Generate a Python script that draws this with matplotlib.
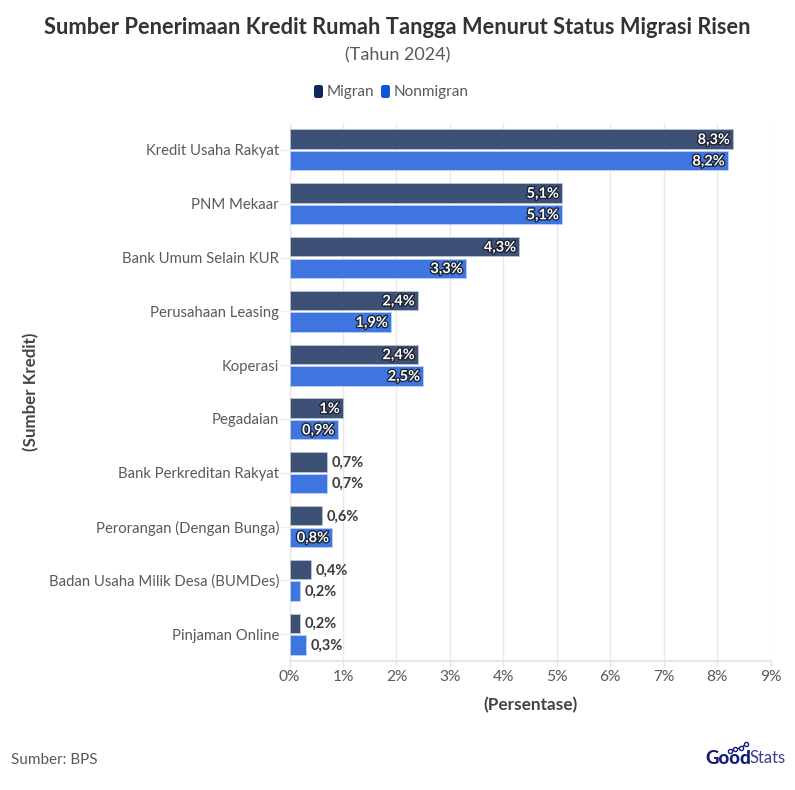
import matplotlib
matplotlib.use('Agg')
import matplotlib.pyplot as plt
import matplotlib.patheffects as pe
from matplotlib.patches import FancyBboxPatch
from matplotlib.lines import Line2D

plt.rcParams['font.family'] = ['Lato', 'DejaVu Sans']

categories = ['Kredit Usaha Rakyat', 'PNM Mekaar', 'Bank Umum Selain KUR', 'Perusahaan Leasing',
              'Koperasi', 'Pegadaian', 'Bank Perkreditan Rakyat', 'Perorangan (Dengan Bunga)',
              'Badan Usaha Milik Desa (BUMDes)', 'Pinjaman Online']
migran = [8.3, 5.1, 4.3, 2.4, 2.4, 1, 0.7, 0.6, 0.4, 0.2]
nonmigran = [8.2, 5.1, 3.3, 1.9, 2.5, 0.9, 0.7, 0.8, 0.2, 0.3]
xticks = [0, 1, 2, 3, 4, 5, 6, 7, 8, 9]

W, H = 795, 790
TEXT = '#555a60'
DARK = '#333333'


def fx(px):
    return px / W


def fy(py):
    return 1 - py / H


def fmt(v):
    return f'{v:g}'.replace('.', ',') + '%'


fig = plt.figure(figsize=(W / 100, H / 100), dpi=100, facecolor='white')
ax = fig.add_axes([fx(289.6), fy(661), (771 - 290) / W, (661 - 123) / H])

pos = list(range(len(categories)))
for vals, off, col, edge in [(migran, -0.2, '#3d5176', '#c3c9d5'), (nonmigran, 0.2, '#3f75e0', '#c5d5f5')]:
    ax.barh([p + off for p in pos], vals, height=0.36, color=col, edgecolor=edge, linewidth=0.5, zorder=3)
    for p, v in zip(pos, vals):
        # label goes inside when the bar is long enough for it
        if v >= 0.8:
            ax.text(v - 0.06, p + off + 0.015, fmt(v), ha='right', va='center', color='white', fontsize=10.5,
                    fontweight='bold', zorder=5,
                    path_effects=[pe.withStroke(linewidth=2, foreground='#1c2433')])
        else:
            ax.text(v + 0.09, p + off + 0.015, fmt(v), ha='left', va='center', color='#3c3c3c', fontsize=10.5,
                    fontweight='bold', zorder=5)

ax.set_xlim(0, 9)
ax.set_ylim(len(categories) - 0.5, -0.5)
ax.set_xticks(xticks)
ax.set_xticklabels([f'{t}%' for t in xticks], fontsize=11.2, color=TEXT)
ax.set_yticks(pos)
ax.set_yticklabels(categories, fontsize=10.7, color=TEXT)
ax.tick_params(axis='y', length=7, width=1, color='#eeeeee', pad=0.7)
ax.tick_params(axis='x', length=4.5, width=1, color='#e6e6e6', pad=2)
ax.grid(axis='x', color='#e9e9ec', linewidth=1, zorder=0)
ax.set_axisbelow(True)
for s in ['top', 'right']:
    ax.spines[s].set_visible(False)
ax.spines['left'].set_color('#e6e6e6')
ax.spines['bottom'].set_color('#e6e6e6')
ax.spines['bottom'].set_linewidth(1.5)

fig.text(fx(397.5), fy(27), 'Sumber Penerimaan Kredit Rumah Tangga Menurut Status Migrasi Risen',
         ha='center', va='center', fontsize=15.75, fontweight='bold', color=DARK)
fig.text(fx(397.5), fy(55), '(Tahun 2024)', ha='center', va='center', fontsize=13, color=TEXT)
fig.text(fx(531), fy(705), '(Persentase)', ha='center', va='center', fontsize=12.4, fontweight='bold', color='#444444')
fig.text(fx(31), fy(392), '(Sumber Kredit)', ha='center', va='center', rotation=90, fontsize=12.2,
         fontweight='bold', color='#444444')
fig.text(fx(11), fy(760), 'Sumber: BPS', ha='left', va='center', fontsize=11, color=TEXT)

# legend
for x0, col, label in [(314, '#12275c', 'Migran'), (381, '#0f56d9', 'Nonmigran')]:
    fig.patches.append(FancyBboxPatch((fx(x0), fy(98)), 9 / W, 13 / H, boxstyle='round,pad=0,rounding_size=0.003',
                                      transform=fig.transFigure, facecolor=col, edgecolor='none'))
    fig.text(fx(x0 + 13), fy(92), label, ha='left', va='center', fontsize=11, color=TEXT)

# logo
fig.text(fx(705), fy(758), 'Good', ha='left', va='center', fontsize=13.5, fontweight='black', color='#151c7a')
fig.text(fx(749), fy(758), 'Stats', ha='left', va='center', fontsize=12, color='#3a3f94')
fig.add_artist(Line2D([fx(730), fx(735), fx(741), fx(746)], [fy(751), fy(749), fy(748), fy(744)],
                      transform=fig.transFigure, color='#151c7a', linewidth=1, marker='o', markersize=3,
                      markerfacecolor='white', markeredgecolor='#151c7a'))

fig.savefig('out.png', dpi=100)
plt.close(fig)
